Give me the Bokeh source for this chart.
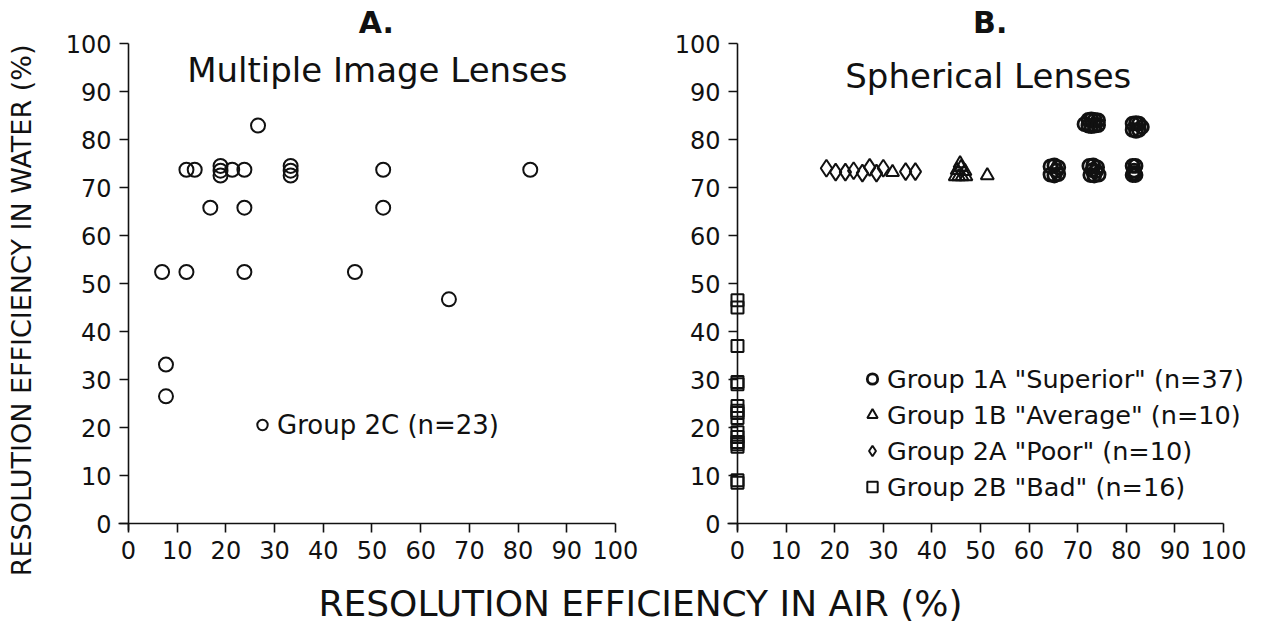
import math
from bokeh.plotting import figure
from bokeh.models import Range1d, FixedTicker, Label, Legend, LegendItem
from bokeh.layouts import row, column
from bokeh.embed import file_html
from bokeh.resources import INLINE

FONT = "DejaVu Sans"
INK = "#111111"
TICKS = list(range(0, 101, 10))

# ---------------- data ----------------
# Panel A: Multiple Image Lenses, Group 2C (n=23)
a_x = [26.6, 11.9, 13.6, 18.9, 18.9, 18.9, 21.3, 23.8, 33.3, 33.3, 33.3, 52.3, 82.5,
       16.8, 23.8, 52.3, 6.9, 11.9, 23.8, 46.5, 65.8, 7.7, 7.7]
a_y = [82.9, 73.7, 73.7, 72.5, 73.5, 74.5, 73.7, 73.7, 72.5, 73.5, 74.5, 73.7, 73.7,
       65.8, 65.8, 65.8, 52.4, 52.4, 52.4, 52.4, 46.7, 33.1, 26.5]

# Panel B: Spherical Lenses
g1a_x = [71.4, 72.2, 72.8, 73.5, 74.2, 72.2, 72.8, 73.5, 74.2,
         81.3, 82.0, 82.6, 81.3, 82.0, 82.6, 83.2,
         64.4, 65.2, 66.0, 64.4, 65.2, 66.0, 65.6,
         72.4, 73.2, 74.0, 72.6, 73.4, 74.3, 73.0, 73.8,
         81.3, 81.9, 81.3, 81.9, 81.6, 81.6]
g1a_y = [83.2, 84.1, 84.2, 84.1, 84.0, 82.9, 82.8, 82.9, 83.0,
         83.3, 83.4, 83.3, 82.0, 81.8, 82.0, 82.6,
         74.4, 74.6, 74.2, 72.7, 72.5, 72.8, 73.5,
         74.5, 74.6, 74.2, 72.6, 72.5, 72.7, 73.6, 73.4,
         74.5, 74.5, 72.6, 72.6, 73.5, 73.0]

g1b_x = [31.9, 44.8, 45.5, 46.2, 47.0, 45.2, 46.0, 46.8, 45.8, 51.4]
g1b_y = [73.2, 72.3, 72.3, 72.3, 72.3, 73.6, 74.2, 73.4, 75.0, 72.5]

g2a_x = [18.3, 20.2, 22.2, 23.9, 25.7, 27.2, 28.6, 30.0, 34.6, 36.6]
g2a_y = [74.0, 73.2, 73.2, 73.5, 73.0, 74.2, 73.0, 74.0, 73.3, 73.3]

g2b_x = [0] * 16
g2b_y = [46.5, 45.0, 37.0, 29.5, 29.0, 24.5, 23.5, 23.0, 22.0, 19.0, 18.0, 17.0, 16.5, 16.0, 9.0, 8.5]

legend_a = ["Group 2C (n=23)"]
legend_b = ['Group 1A "Superior" (n=37)', 'Group 1B "Average" (n=10)',
            'Group 2A "Poor" (n=10)', 'Group 2B "Bad" (n=16)']

PANEL_H = 583


def make_panel(width, x_range):
    # frame covers the whole canvas; axes are pinned at data 0 and bounded
    p = figure(width=width, height=PANEL_H, x_range=Range1d(*x_range),
               y_range=Range1d(-12.5, 108.96),
               output_backend="svg", toolbar_location=None, min_border=0)
    p.grid.visible = False
    p.outline_line_color = None
    for ax, b in ((p.xaxis[0], (-2, 100)), (p.yaxis[0], (-1.5, 100))):
        ax.ticker = FixedTicker(ticks=TICKS)
        ax.fixed_location = 0
        ax.bounds = b
        ax.minor_tick_line_color = None
        ax.major_tick_in = 0
        ax.major_tick_out = 9
        ax.axis_line_width = 1.6
        ax.axis_line_color = INK
        ax.major_tick_line_width = 1.6
        ax.major_tick_line_color = INK
        ax.major_label_text_font = FONT
        ax.major_label_text_font_size = "24px"
        ax.major_label_text_color = INK
        ax.major_label_standoff = 8
    return p


def legend(items, vx, vy, size):
    return Legend(items=items, location=(vx, vy), padding=0, margin=0, spacing=3,
                  glyph_width=26, glyph_height=33, label_height=33, label_standoff=2,
                  label_text_font=FONT, label_text_font_size=size, label_text_color=INK,
                  border_line_alpha=0, background_fill_alpha=0)


mk = dict(line_color=INK, fill_color=None, line_width=2)

# ---------------- Panel A ----------------
pA = make_panel(648, (-26.28, 106.78))
rA = pA.scatter(a_x, a_y, marker="circle", size=14, **mk)
pA.add_layout(legend([LegendItem(label=legend_a[0], renderers=[rA])], 249, 142, "26px"))
pA.add_layout(Label(x=50.9, y=104.4, text="A.", text_font=FONT, text_font_size="30px",
                    text_font_style="bold", text_align="center", text_baseline="middle",
                    text_color=INK))
pA.add_layout(Label(x=51.1, y=94.4, text="Multiple Image Lenses", text_font=FONT,
                    text_font_size="34px", text_align="center", text_baseline="middle",
                    text_color=INK))
pA.add_layout(Label(x=-22.0, y=44.4, text="RESOLUTION EFFICIENCY IN WATER (%)",
                    angle=math.pi / 2, text_font=FONT, text_font_size="27px",
                    text_align="center", text_baseline="middle", text_color=INK))

# ---------------- Panel B ----------------
pB = make_panel(610, (-18.31, 107.2))
r1a = pB.scatter(g1a_x, g1a_y, marker="circle", size=13, line_color=INK, fill_color=None,
                 line_width=2.8)
r1b = pB.scatter(g1b_x, g1b_y, marker="triangle", size=13, **mk)
r2a = pB.scatter(g2a_x, g2a_y, marker="diamond", size=17, **mk)
r2b = pB.scatter(g2b_x, g2b_y, marker="square", size=12, **mk)
pB.add_layout(legend([LegendItem(label=t, renderers=[r]) for t, r in
                      zip(legend_b, [r1a, r1b, r2a, r2b])], 211, 80, "25.5px"))
pB.add_layout(Label(x=52.0, y=104.4, text="B.", text_font=FONT, text_font_size="30px",
                    text_font_style="bold", text_align="center", text_baseline="middle",
                    text_color=INK))
pB.add_layout(Label(x=51.6, y=93.3, text="Spherical Lenses", text_font=FONT,
                    text_font_size="34px", text_align="center", text_baseline="middle",
                    text_color=INK))

# ---------------- shared x title ----------------
pX = figure(width=1258, height=55, x_range=Range1d(0, 1258), y_range=Range1d(0, 55),
            x_axis_type=None, y_axis_type=None, output_backend="svg", toolbar_location=None,
            min_border=0)
pX.outline_line_color = None
pX.add_layout(Label(x=640, y=35, text="RESOLUTION EFFICIENCY IN AIR (%)", text_font=FONT,
                    text_font_size="36px", text_align="center", text_baseline="middle",
                    text_color=INK))

layout = column(row(pA, pB), pX)
open("out.html", "w").write(file_html(layout, INLINE))
